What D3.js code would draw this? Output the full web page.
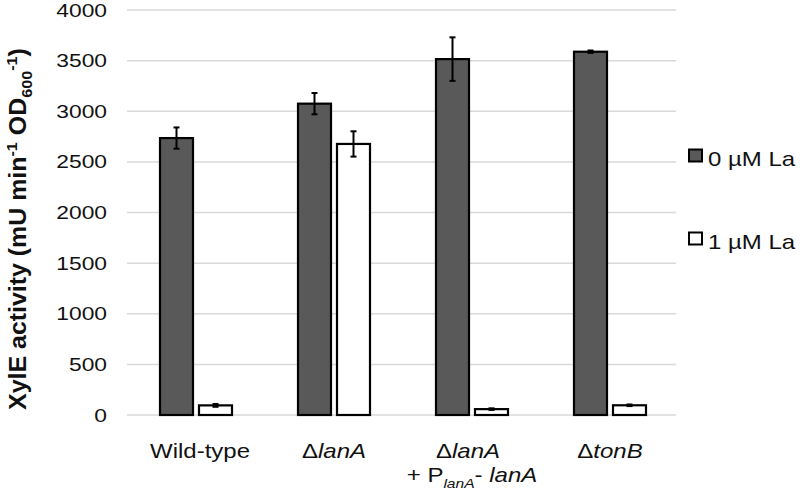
<!DOCTYPE html>
<html><head><meta charset="utf-8">
<script src="https://cdn.jsdelivr.net/npm/d3@7"></script>
<style>body{margin:0;background:#fff}svg{display:block}text{font-family:"Liberation Sans",Arial,sans-serif;fill:#111}</style>
</head><body><svg id="c" width="800" height="498"></svg>
<script>
const categories = ["Wild-type", "ΔlanA", "ΔlanA + PlanA- lanA", "ΔtonB"];
const seriesNames = ["0 µM La", "1 µM La"];
const values0 = [2735, 3075, 3515, 3588];
const errors0 = [105, 105, 215, 12];
const values1 = [95, 2677, 58, 96];
const errors1 = [14, 125, 8, 8];
const yTicks = [0, 500, 1000, 1500, 2000, 2500, 3000, 3500, 4000];
const colors = ["#595959", "#ffffff"];

const svg = d3.select("#c");
const y = d3.scaleLinear().domain([0, 4000]).range([415, 10]);
const x0 = d3.scaleBand().domain(categories).range([127, 679]);
const x1 = d3.scaleBand().domain(seriesNames).range([-36, 36]).paddingInner(6/39);
const SX = 1.2;

// gridlines
svg.append("g").selectAll("line").data(yTicks).join("line")
  .attr("x1", 127).attr("x2", 676)
  .attr("y1", d => y(d)).attr("y2", d => y(d))
  .attr("stroke", "#d9d9d9").attr("stroke-width", 1.5);

// tick labels
svg.append("g").selectAll("text").data(yTicks).join("text")
  .attr("transform", d => `translate(107,${y(d) + 6.5}) scale(${SX},1)`)
  .attr("text-anchor", "end").attr("font-size", 19).text(d => d);

// bars
const series = [values0, values1];
const errs = [errors0, errors1];
series.forEach((vals, si) => {
  const g = svg.append("g");
  g.selectAll("rect").data(categories).join("rect")
    .attr("x", (c) => x0(c) + x0.bandwidth()/2 + x1(seriesNames[si]))
    .attr("width", x1.bandwidth())
    .attr("y", (c, i) => y(vals[i]))
    .attr("height", (c, i) => y(0) - y(vals[i]))
    .attr("fill", colors[si]).attr("stroke", "#000").attr("stroke-width", 2.2);
  categories.forEach((c, i) => {
    const cx = x0(c) + x0.bandwidth()/2 + x1(seriesNames[si]) + x1.bandwidth()/2;
    const top = y(vals[i] + errs[si][i]), bot = y(vals[i] - errs[si][i]);
    g.append("line").attr("x1", cx).attr("x2", cx).attr("y1", top).attr("y2", bot).attr("stroke", "#000").attr("stroke-width", 2);
    [top, bot].forEach(yy => g.append("line").attr("x1", cx-3).attr("x2", cx+3).attr("y1", yy).attr("y2", yy).attr("stroke", "#000").attr("stroke-width", 2));
  });
});

// x labels
function lab(cx, yy, parts) {
  const t = svg.append("text").attr("font-size", 20).attr("text-anchor", "middle")
    .attr("transform", `translate(${cx},${yy}) scale(${SX},1)`);
  parts.forEach(p => {
    const ts = t.append("tspan").text(p.t);
    if (p.i) ts.attr("font-style", "italic");
    if (p.sub) ts.attr("font-size", 13).attr("dy", 6);
    if (p.back) ts.attr("dy", -6);
  });
  return t;
}
const cxs = categories.map(c => x0(c) + x0.bandwidth()/2);
const base = y(0) + 43;
lab(cxs[0] + 4, base, [{t: "Wild-type"}]);
lab(cxs[1], base, [{t: "Δ"}, {t: "lanA", i: true}]);
lab(cxs[2] - 4, base, [{t: "Δ"}, {t: "lanA", i: true}]);
lab(cxs[2], base + 24, [{t: "+ P"}, {t: "lanA", i: true, sub: true}, {t: "- ", back: true}, {t: "lanA", i: true}]);
lab(cxs[3], base, [{t: "Δ"}, {t: "tonB", i: true}]);

// legend
seriesNames.forEach((s, i) => {
  const ly = 155.5 + i * 83;
  svg.append("rect").attr("x", 689).attr("y", ly - 6).attr("width", 13).attr("height", 12)
    .attr("fill", colors[i]).attr("stroke", "#000").attr("stroke-width", 2);
  svg.append("text").attr("font-size", 20)
    .attr("transform", `translate(708,${ly + 10.5}) scale(${SX},1)`).text(s);
});

// y title
const yt = svg.append("text").attr("font-size", 20).attr("font-weight", "bold").attr("text-anchor", "middle");
yt.append("tspan").text("XylE activity (mU min");
yt.append("tspan").attr("font-size", 13).attr("dy", -8).text("-1");
yt.append("tspan").attr("dy", 8).text(" OD");
yt.append("tspan").attr("font-size", 13).attr("dy", 5).text("600");
yt.append("tspan").attr("font-size", 13).attr("dy", -13).text("-1");
yt.append("tspan").attr("dy", 8).text(")");
const w = yt.node().getComputedTextLength();
yt.attr("transform", `translate(26,229) rotate(-90) scale(${362 / w},1.15)`);
</script></body></html>
